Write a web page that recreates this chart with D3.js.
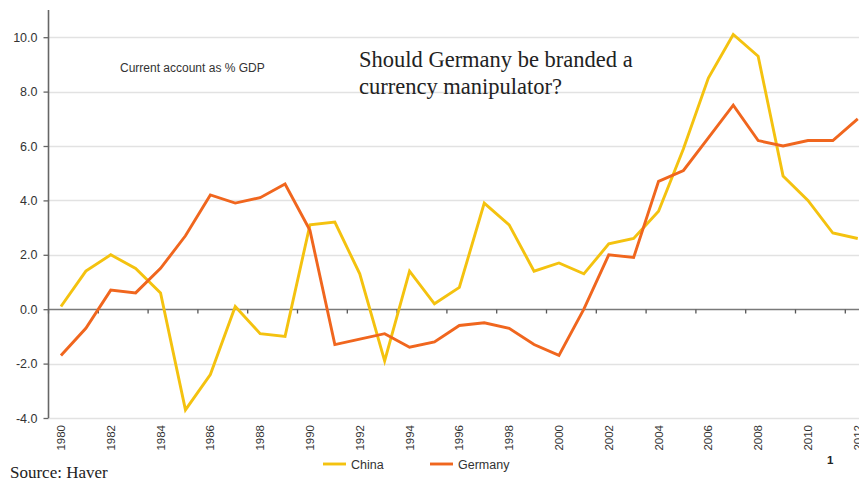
<!DOCTYPE html>
<html>
<head>
<meta charset="utf-8">
<script src="https://cdn.jsdelivr.net/npm/d3@7"></script>
<style>
html,body{margin:0;padding:0;background:#fff;overflow:hidden}
svg{display:block}
</style>
</head>
<body>
<svg id="c" width="859" height="483"></svg>
<script>
const years = d3.range(1980, 2013).map(String);
const china = [0.1,1.4,2.0,1.5,0.6,-3.7,-2.4,0.1,-0.9,-1.0,
  3.1,3.2,1.3,-1.9,1.4,0.2,0.8,3.9,3.1,1.4,
  1.7,1.3,2.4,2.6,3.6,5.9,8.5,10.1,9.3,4.9,
  4.0,2.8,2.6];
const germany = [-1.7,-0.7,0.7,0.6,1.5,2.7,4.2,3.9,4.1,4.6,
  2.9,-1.3,-1.1,-0.9,-1.4,-1.2,-0.6,-0.5,-0.7,-1.3,
  -1.7,0.0,2.0,1.9,4.7,5.1,6.3,7.5,6.2,6.0,
  6.2,6.2,7.0];
const yTicks = [-4,-2,0,2,4,6,8,10];
const xLabels = years.filter((y,i)=>i%2===0);
const seriesNames = ["China","Germany"];
const colors = ["#F4C20F","#F0661E"];

(function(){
const svg = d3.select("#c");
const pl = 48.5, pt = 10, pb = 418;
const bandW = 24.9;
const x = d3.scaleBand().domain(years).range([pl, pl + bandW*years.length]).padding(0);
const y = d3.scaleLinear().domain([-4, 11]).range([pb, pb - 15*27.2]);
const sans = "'Liberation Sans', Arial, sans-serif";
const serif = "'Liberation Serif', 'Times New Roman', serif";

// gridlines
svg.append("g").selectAll("line").data(yTicks.filter(d=>d!==0)).join("line")
  .attr("x1", pl).attr("x2", 859)
  .attr("y1", d=>Math.round(y(d))+0.5).attr("y2", d=>Math.round(y(d))+0.5)
  .attr("stroke", "#e2e2e2").attr("stroke-width", 1.5);

// zero axis line with ticks
const zy = Math.round(y(0))+0.5;
svg.append("line").attr("x1", pl).attr("x2", 859).attr("y1", zy).attr("y2", zy)
  .attr("stroke", "#7a7a7a").attr("stroke-width", 1.4);
const tickPos = years.filter((d,i)=>i%2===0).map(d=>x(d));
svg.append("g").selectAll("line").data(tickPos).join("line")
  .attr("x1", d=>d).attr("x2", d=>d).attr("y1", zy).attr("y2", zy+4)
  .attr("stroke", "#555").attr("stroke-width", 1.3);

// y axis
const yAxis = d3.axisLeft(y).tickValues(yTicks).tickFormat(d=>d.toFixed(1)).tickSize(5).tickPadding(6);
const ga = svg.append("g").attr("transform", `translate(${pl},0)`).call(yAxis);
ga.select(".domain").remove();
ga.append("line").attr("x1",0).attr("x2",0).attr("y1",pt).attr("y2",pb).attr("stroke","#666").attr("stroke-width",1.6);
ga.selectAll(".tick line").attr("stroke","#666").attr("stroke-width",1.3);
ga.selectAll(".tick text").attr("fill","#333").style("font-family",sans).style("font-size","12.5px");

// x labels rotated
const xAxis = d3.axisBottom(x).tickValues(xLabels).tickSize(0).tickPadding(0);
const gx = svg.append("g").attr("transform", `translate(0,${pb})`).call(xAxis);
gx.select(".domain").remove();
gx.selectAll(".tick text")
  .attr("transform","rotate(-90)").attr("x",-7).attr("y",0).attr("dy","0.35em")
  .attr("text-anchor","end").attr("fill","#333")
  .style("font-family",sans).style("font-size","11.5px");

// lines
const line = d3.line().x((d,i)=>x(years[i]) + x.bandwidth()/2).y(d=>y(d));
[china, germany].forEach((s,k)=>{
  svg.append("path").datum(s).attr("d", line).attr("fill","none")
    .attr("stroke", colors[k]).attr("stroke-width", 2.9).attr("stroke-linejoin","miter");
});

// texts
svg.append("text").attr("x",120).attr("y",72).text("Current account as % GDP")
  .attr("fill","#333").style("font-family",sans).style("font-size","12px");
const t = svg.append("text").attr("fill","#222").style("font-family",serif).style("font-size","22.5px");
t.append("tspan").attr("x",359).attr("y",67).text("Should Germany be branded a");
t.append("tspan").attr("x",359).attr("y",94).text("currency manipulator?");

// legend
const lg = svg.append("g");
const legX = [323, 430];
seriesNames.forEach((n,k)=>{
  lg.append("line").attr("x1",legX[k]).attr("x2",legX[k]+23).attr("y1",464).attr("y2",464)
    .attr("stroke",colors[k]).attr("stroke-width",2.9);
  lg.append("text").attr("x",legX[k]+28).attr("y",469).text(n).attr("fill","#333")
    .style("font-family",sans).style("font-size","12.5px");
});

svg.append("text").attr("x",10).attr("y",478).text("Source: Haver").attr("fill","#222")
  .style("font-family",serif).style("font-size","17px");
svg.append("text").attr("x",827).attr("y",464).text("1").attr("fill","#222")
  .style("font-family",sans).style("font-size","11.5px").style("font-weight","bold");
})();
</script>
</body>
</html>
